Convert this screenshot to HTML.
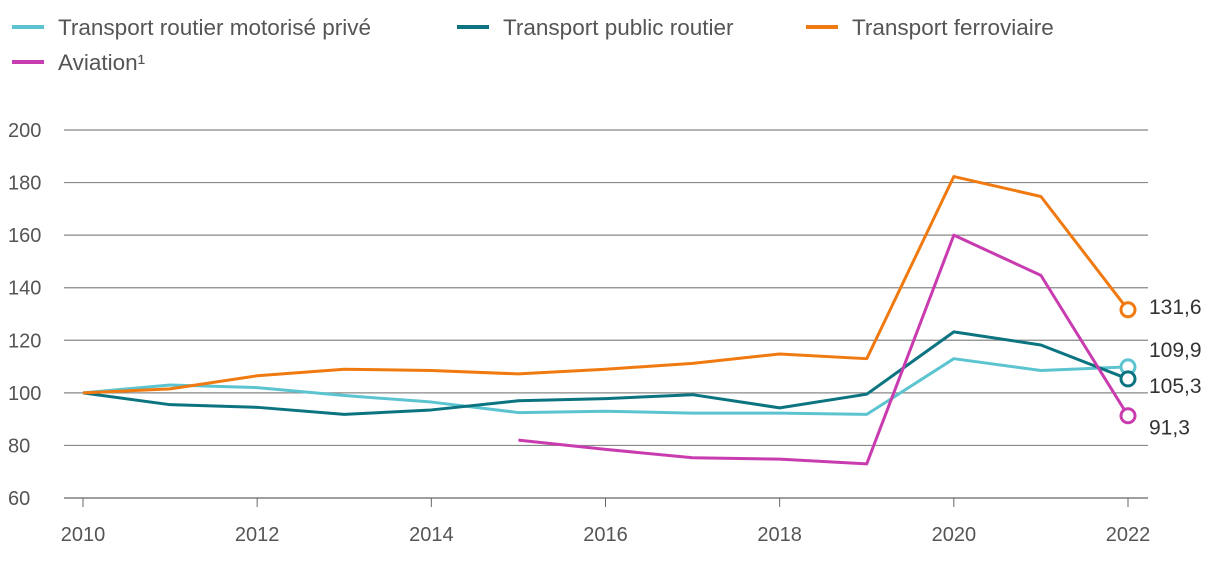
<!DOCTYPE html>
<html><head><meta charset="utf-8"><style>
body{margin:0;background:#fff;font-family:"Liberation Sans",sans-serif}
svg text{font-family:"Liberation Sans",sans-serif;fill:#555}
</style></head><body>
<svg id="c" width="1220" height="564">
<g id="legend"></g>
<g id="grid"></g>
<g id="series"></g>
</svg>
<script>
const years=[2010,2011,2012,2013,2014,2015,2016,2017,2018,2019,2020,2021,2022];
const privateRoad=[100,103,102,99,96.5,92.5,93,92.3,92.3,91.8,113,108.5,109.9];
const publicRoad=[100,95.5,94.5,91.8,93.5,97,97.8,99.3,94.3,99.5,123.2,118.2,105.3];
const rail=[100,101.5,106.5,109,108.5,107.2,109,111.2,114.8,113,182.3,174.7,131.6];
const aviation=[null,null,null,null,null,82,78.5,75.3,74.8,73,160,144.7,91.3];
const yTicks=[60,80,100,120,140,160,180,200];
const xTicks=[2010,2012,2014,2016,2018,2020,2022];
const endLabels=["109,9","105,3","131,6","91,3"];
const names=["Transport routier motorisé privé","Transport public routier","Transport ferroviaire","Aviation¹"];
const colors=["#5cc4d0","#0b7480","#f07a10","#c83cb0"];
const NS="http://www.w3.org/2000/svg";
const x=v=>83+(v-2010)*(1128-83)/12;
const y=v=>498-(v-60)*(498-130)/140;
function mk(t,a,p){const e=document.createElementNS(NS,t);for(const k in a)e.setAttribute(k,a[k]);p.appendChild(e);return e;}
const G=document.getElementById('grid');
yTicks.forEach(t=>{
 const l=mk('line',{x1:64,x2:1148,y1:y(t),y2:y(t),stroke:t==60?'#666':'#888','stroke-width':1.2},G);
 
 
 const tx=mk('text',{x:8,y:y(t)+7,'font-size':20},G);tx.textContent=t;
 
 
});
xTicks.forEach(t=>{
 mk('line',{x1:x(t),x2:x(t),y1:498,y2:507,stroke:'#666'},G);
 const tx=mk('text',{x:x(t),y:541,'font-size':20,'text-anchor':'middle'},G);tx.textContent=t;
 
 
});
const S=document.getElementById('series');
const data=[privateRoad,publicRoad,rail,aviation];
[0,1,2,3].forEach(i=>{
 const d=data[i];let pts=[];
 d.forEach((v,j)=>{if(v!=null)pts.push(x(years[j])+','+y(v));});
 const p=mk('polyline',{points:pts.join(' '),fill:'none',stroke:colors[i],'stroke-width':3,'stroke-linejoin':'round'},S);
 
 
 const last=d[d.length-1];
 const c=mk('circle',{cx:x(2022),cy:y(last),r:7,fill:'#fff',stroke:colors[i],'stroke-width':3},S);
 
 
});
const lblY=[y(109.9)-18,y(105.3)+6,y(131.6)-4,y(91.3)+11];
endLabels.forEach((t,i)=>{
 const tx=mk('text',{x:1149,y:lblY[i]+8,'font-size':21,style:'fill:#333'},S);tx.textContent=t;
 
 
});
const L=document.getElementById('legend');
const lp=[[12,27],[457,27],[806,27],[12,62]];
names.forEach((n,i)=>{
 mk('line',{x1:lp[i][0],x2:lp[i][0]+32,y1:lp[i][1],y2:lp[i][1],stroke:colors[i],'stroke-width':4},L);
 const tx=mk('text',{x:lp[i][0]+46,y:lp[i][1]+8,'font-size':22.5},L);tx.textContent=n;
 
 
});
</script>
</body></html>
